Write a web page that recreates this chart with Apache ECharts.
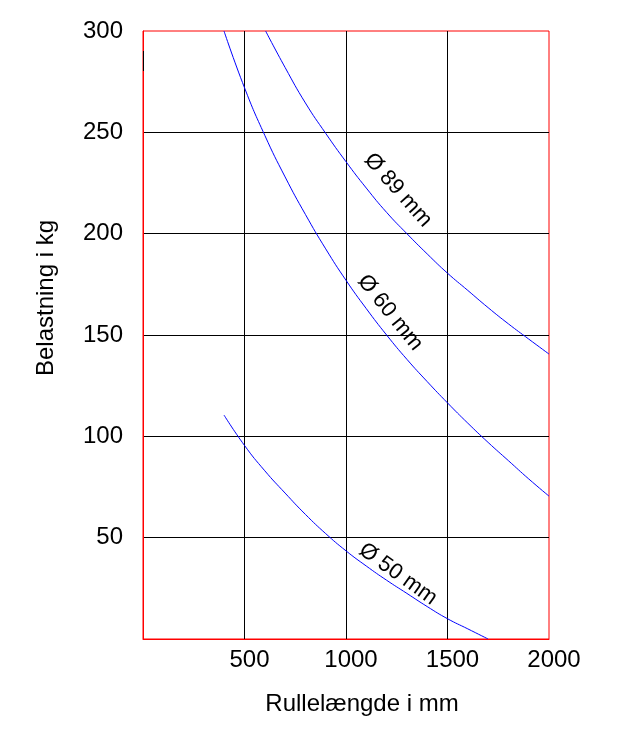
<!DOCTYPE html>
<html>
<head>
<meta charset="utf-8">
<script src="https://cdn.jsdelivr.net/npm/echarts@6/dist/echarts.min.js"></script>
<style>html,body{margin:0;padding:0;background:#fff}#c{width:619px;height:745px}</style>
</head>
<body>
<div id="c"></div>
<script>
// Data (x: Rullelængde i mm, y: Belastning i kg)
const xTicks = [0, 500, 1000, 1500, 2000];
const yTicks = [0, 50, 100, 150, 200, 250, 300];
const curve89 = [[604,300],[700,282],[800,264.5],[900,249.5],[1000,235.5],[1100,222.5],[1200,210.5],[1300,200],[1400,190],[1500,180.5],[1600,172],[1700,163.5],[1800,155.5],[1900,148],[2000,140.6]];
const curve60 = [[399,300],[500,272],[600,248.5],[700,228],[800,209.5],[900,192.5],[1000,177],[1100,163],[1200,150],[1300,138],[1400,127],[1500,116.5],[1600,106.5],[1700,97],[1800,88],[1900,79],[2000,70.5]];
const curve50 = [[399,110.5],[500,95.5],[600,83],[700,72],[800,61.5],[900,52],[1000,43.5],[1100,36],[1200,29],[1300,22.5],[1400,16],[1500,10],[1600,5],[1700,0]];
const curveLabels = [
  {text: 'Ø 89 mm', at: [1256, 221.5], angle: 48.5},
  {text: 'Ø 60 mm', at: [1217, 161], angle: 51},
  {text: 'Ø 50 mm', at: [1256, 32], angle: 35.6}
];
const xName = 'Rullelængde i mm';
const yName = 'Belastning i kg';

const FONT = '"Liberation Sans", Arial, sans-serif';
const chart = echarts.init(document.getElementById('c'), null, {renderer: 'canvas'});
function lineSeries(data) {
  return {type: 'line', data: data, smooth: true, showSymbol: false, silent: true,
    lineStyle: {color: '#0000ff', width: 1}, clip: true};
}
chart.setOption({
  animation: false,
  backgroundColor: '#ffffff',
  grid: {left: 143, right: 70, top: 31, bottom: 106, show: true, borderColor: '#ff0000', borderWidth: 1, backgroundColor: 'transparent'},
  xAxis: {
    type: 'value', min: xTicks[0], max: xTicks[xTicks.length - 1], interval: 500,
    axisLine: {show: true, lineStyle: {color: '#ff0000', width: 1}},
    axisTick: {show: false},
    splitLine: {show: true, showMinLine: false, showMaxLine: false, lineStyle: {color: '#000000', width: 1}},
    axisLabel: {show: true, margin: 9, fontSize: 24, color: '#000', fontFamily: FONT, padding: [0, 0, 0, 10],
      formatter: v => (v === 0 ? '' : String(v))}
  },
  yAxis: {
    type: 'value', min: yTicks[0], max: yTicks[yTicks.length - 1], interval: 50,
    axisLine: {show: true, lineStyle: {color: '#ff0000', width: 1}},
    axisTick: {show: false},
    splitLine: {show: true, showMinLine: false, showMaxLine: false, lineStyle: {color: '#000000', width: 1}},
    axisLabel: {show: true, margin: 20, fontSize: 24, color: '#000', fontFamily: FONT,
      formatter: v => (v === 0 ? '' : String(v))}
  },
  series: [lineSeries(curve89), lineSeries(curve60), lineSeries(curve50)]
});

const g = [];
curveLabels.forEach(l => {
  const p = chart.convertToPixel({gridIndex: 0}, l.at);
  g.push({type: 'text', x: p[0], y: p[1], rotation: -l.angle * Math.PI / 180, z: 10,
    style: {text: l.text, fill: '#000', fontSize: 22, fontFamily: FONT, align: 'center', verticalAlign: 'middle'}});
});
g.push({type: 'text', x: 362, y: 704, z: 10,
  style: {text: xName, fill: '#000', fontSize: 24, fontFamily: FONT, align: 'center', verticalAlign: 'middle'}});
g.push({type: 'text', x: 46, y: 298, rotation: Math.PI / 2, z: 10,
  style: {text: yName, fill: '#000', fontSize: 24, fontFamily: FONT, align: 'center', verticalAlign: 'middle'}});
g.push({type: 'line', z: 10, shape: {x1: 143.5, y1: 51, x2: 143.5, y2: 71}, style: {stroke: '#000', lineWidth: 1}});
chart.setOption({graphic: g});
</script>
</body>
</html>
